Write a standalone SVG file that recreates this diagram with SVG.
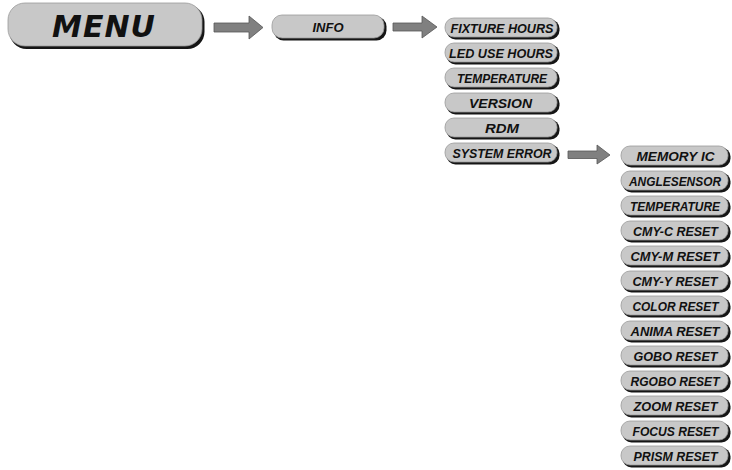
<svg xmlns="http://www.w3.org/2000/svg" width="732" height="470" viewBox="0 0 732 470">
<style>
.sh{fill:#151515}
.bt{fill:#c8c8c8;stroke:#9a9a9a;stroke-width:0.8}
.t{font-family:"Liberation Sans",Arial,sans-serif;font-weight:bold;font-style:italic;fill:#111;text-anchor:middle;font-size:13.5px}
.big{font-family:"DejaVu Sans",Verdana,sans-serif;font-weight:bold;font-style:italic;fill:#111;text-anchor:middle;font-size:30px;letter-spacing:1px}
.ar{fill:#808080;stroke:#555;stroke-width:0.8}
</style>
<rect width="732" height="470" fill="#fff"/>
<g id="menu">
<rect class="sh" x="9.5" y="5" width="195" height="44" rx="17"/>
<rect class="bt" x="8" y="3" width="194" height="43" rx="17"/>
<text class="big" x="104" y="37">MENU</text>
</g>
<g id="info">
<rect class="sh" x="273.5" y="16.5" width="113" height="24" rx="10"/>
<rect class="bt" x="272" y="15" width="112" height="23" rx="10"/>
<text class="t" x="328" y="32" style="font-size:13px">INFO</text>
</g>
<g id="fixture-hours"><rect class="sh" x="446.5" y="19.5" width="113" height="20" rx="9"/><rect class="bt" x="445" y="18" width="112" height="19" rx="9"/><text class="t" x="502" y="33" textLength="103" lengthAdjust="spacingAndGlyphs">FIXTURE HOURS</text></g>
<g id="led-use-hours"><rect class="sh" x="446.5" y="44.5" width="113" height="20" rx="9"/><rect class="bt" x="445" y="43" width="112" height="19" rx="9"/><text class="t" x="501" y="58" textLength="104" lengthAdjust="spacingAndGlyphs">LED USE HOURS</text></g>
<g id="temperature-1"><rect class="sh" x="446.5" y="69.5" width="113" height="20" rx="9"/><rect class="bt" x="445" y="68" width="112" height="19" rx="9"/><text class="t" x="502" y="83" textLength="90" lengthAdjust="spacingAndGlyphs">TEMPERATURE</text></g>
<g id="version"><rect class="sh" x="446.5" y="94.5" width="113" height="20" rx="9"/><rect class="bt" x="445" y="93" width="112" height="19" rx="9"/><text class="t" x="500.5" y="108" textLength="63" lengthAdjust="spacingAndGlyphs">VERSION</text></g>
<g id="rdm"><rect class="sh" x="446.5" y="119.5" width="113" height="20" rx="9"/><rect class="bt" x="445" y="118" width="112" height="19" rx="9"/><text class="t" x="502" y="133" textLength="34" lengthAdjust="spacingAndGlyphs">RDM</text></g>
<g id="system-error"><rect class="sh" x="446.5" y="144.5" width="113" height="20" rx="9"/><rect class="bt" x="445" y="143" width="112" height="19" rx="9"/><text class="t" x="502" y="158" textLength="99" lengthAdjust="spacingAndGlyphs">SYSTEM ERROR</text></g>
<g id="memory-ic"><rect class="sh" x="622.5" y="147.5" width="108" height="20" rx="9"/><rect class="bt" x="621" y="146" width="107" height="19" rx="9"/><text class="t" x="675.5" y="161" textLength="78" lengthAdjust="spacingAndGlyphs">MEMORY IC</text></g>
<g id="anglesensor"><rect class="sh" x="622.5" y="172.5" width="108" height="20" rx="9"/><rect class="bt" x="621" y="171" width="107" height="19" rx="9"/><text class="t" x="675" y="186" textLength="92" lengthAdjust="spacingAndGlyphs">ANGLESENSOR</text></g>
<g id="temperature-2"><rect class="sh" x="622.5" y="197.5" width="108" height="20" rx="9"/><rect class="bt" x="621" y="196" width="107" height="19" rx="9"/><text class="t" x="675" y="211" textLength="90" lengthAdjust="spacingAndGlyphs">TEMPERATURE</text></g>
<g id="cmy-c-reset"><rect class="sh" x="622.5" y="222.5" width="108" height="20" rx="9"/><rect class="bt" x="621" y="221" width="107" height="19" rx="9"/><text class="t" x="675.5" y="236" textLength="85" lengthAdjust="spacingAndGlyphs">CMY-C RESET</text></g>
<g id="cmy-m-reset"><rect class="sh" x="622.5" y="247.5" width="108" height="20" rx="9"/><rect class="bt" x="621" y="246" width="107" height="19" rx="9"/><text class="t" x="675" y="261" textLength="89" lengthAdjust="spacingAndGlyphs">CMY-M RESET</text></g>
<g id="cmy-y-reset"><rect class="sh" x="622.5" y="272.5" width="108" height="20" rx="9"/><rect class="bt" x="621" y="271" width="107" height="19" rx="9"/><text class="t" x="675" y="286" textLength="85" lengthAdjust="spacingAndGlyphs">CMY-Y RESET</text></g>
<g id="color-reset"><rect class="sh" x="622.5" y="297.5" width="108" height="20" rx="9"/><rect class="bt" x="621" y="296" width="107" height="19" rx="9"/><text class="t" x="675.5" y="311" textLength="86" lengthAdjust="spacingAndGlyphs">COLOR RESET</text></g>
<g id="anima-reset"><rect class="sh" x="622.5" y="322.5" width="108" height="20" rx="9"/><rect class="bt" x="621" y="321" width="107" height="19" rx="9"/><text class="t" x="675" y="336" textLength="89" lengthAdjust="spacingAndGlyphs">ANIMA RESET</text></g>
<g id="gobo-reset"><rect class="sh" x="622.5" y="347.5" width="108" height="20" rx="9"/><rect class="bt" x="621" y="346" width="107" height="19" rx="9"/><text class="t" x="675.5" y="361" textLength="84" lengthAdjust="spacingAndGlyphs">GOBO RESET</text></g>
<g id="rgobo-reset"><rect class="sh" x="622.5" y="372.5" width="108" height="20" rx="9"/><rect class="bt" x="621" y="371" width="107" height="19" rx="9"/><text class="t" x="675" y="386" textLength="89" lengthAdjust="spacingAndGlyphs">RGOBO RESET</text></g>
<g id="zoom-reset"><rect class="sh" x="622.5" y="397.5" width="108" height="20" rx="9"/><rect class="bt" x="621" y="396" width="107" height="19" rx="9"/><text class="t" x="675.5" y="411" textLength="84" lengthAdjust="spacingAndGlyphs">ZOOM RESET</text></g>
<g id="focus-reset"><rect class="sh" x="622.5" y="422.5" width="108" height="20" rx="9"/><rect class="bt" x="621" y="421" width="107" height="19" rx="9"/><text class="t" x="675.5" y="436" textLength="86" lengthAdjust="spacingAndGlyphs">FOCUS RESET</text></g>
<g id="prism-reset"><rect class="sh" x="622.5" y="447.5" width="108" height="20" rx="9"/><rect class="bt" x="621" y="446" width="107" height="19" rx="9"/><text class="t" x="675.5" y="461" textLength="84" lengthAdjust="spacingAndGlyphs">PRISM RESET</text></g>
<g id="connectors">
<polygon class="ar" points="214,23 249,23 249,16 263,27.5 249,39 249,32 214,32"/>
<polygon class="ar" points="393,23 422,23 422,16 437,27 422,38 422,31 393,31"/>
<polygon class="ar" points="568,151 597,151 597,145 610,155 597,164 597,158.5 568,158.5"/>
</g>
</svg>
